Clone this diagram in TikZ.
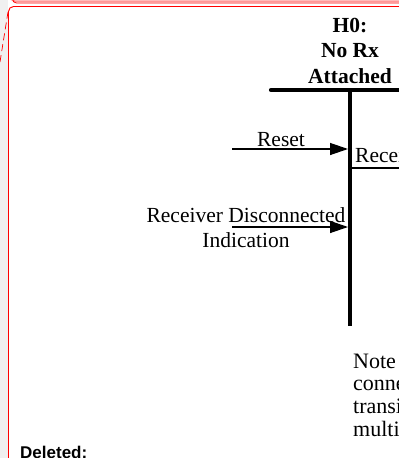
\documentclass[tikz,border=0pt]{standalone}
\usepackage{fontspec}
\setmainfont{Liberation Serif}
\newfontfamily\balloonfont{Liberation Sans}
\usetikzlibrary{arrows.meta}
\definecolor{margingray}{RGB}{240,240,240}
\definecolor{markred}{RGB}{255,0,0}
\definecolor{markpink}{RGB}{255,150,150}
\tikzset{
  lbl/.style={font=\fontsize{21.5}{26}\selectfont, inner sep=0pt, anchor=base},
  ttl/.style={font=\fontsize{21.5}{26}\selectfont\bfseries, inner sep=0pt, anchor=base},
  notetxt/.style={font=\fontsize{22}{24}\selectfont, inner sep=0pt, anchor=base west},
  balloontxt/.style={font=\balloonfont\fontsize{17}{20}\selectfont\bfseries, inner sep=0pt, anchor=base west},
  bar/.style={line width=4.2pt, line cap=round},
  sig/.style={line width=1.3pt, -{Triangle[length=18pt,width=12pt]}},
}
\begin{document}
\begin{tikzpicture}[x=1pt,y=-1pt]
\useasboundingbox (0,0) rectangle (399,458);
% page and margin
\fill[margingray] (0,0) rectangle (399,458);
\fill[white] (8,0) rectangle (399,458);
% tracked-change balloons
\draw[markpink, line width=1.6pt, rounded corners=4pt] (11,-20) -- (11,1.2) -- (420,1.2);
\draw[markred, line width=0.8pt, rounded corners=4pt] (12.5,-20) -- (12.5,3) -- (420,3);
\draw[markred, line width=0.9pt, rounded corners=5pt] (8.5,480) -- (8.5,6.5) -- (430,6.5);
\coordinate (lk1) at (0,62);
\coordinate (lk2) at (8,12);
\draw[markred, line width=0.7pt, dash pattern=on 7pt off 4pt] (lk1) -- (lk2);
\node[balloontxt] (del) at (20,458) {Deleted:};

% state H0
\node[ttl] (t1) at (350,32) {H0:};
\node[ttl] (t2) at (350,57.5) {No Rx};
\node[ttl] (t3) at (350,83) {Attached};
\coordinate (hl) at (271,90);
\coordinate (hr) at (410,90);
\coordinate (vt) at (350,90);
\coordinate (vb) at (350,326);
\draw[bar] (hl) -- (hr);
\draw[line width=4.4pt] (vt) -- (vb);

% incoming transitions
\coordinate (r0) at (232,149);
\coordinate (r1) at (348,149);
\draw[sig] (r0) -- (r1);
\node[lbl] (reset) at (281,146) {Reset};
\coordinate (d0) at (232,227);
\coordinate (d1) at (348,227);
\node[lbl] (rd1) at (246,222) {Receiver Disconnected};
\node[lbl] (rd2) at (246,247) {Indication};
\draw[sig] (d0) -- (d1);

% outgoing transition
\node[lbl, anchor=base west] (rece) at (355,162) {Receiver Detected};
\coordinate (o0) at (352,168);
\coordinate (o1) at (410,168);
\draw[line width=1.1pt] (o0) -- (o1);

% note
\node[notetxt] (n1) at (353,368) {Note};
\node[notetxt] (n2) at (353,390) {connection};
\node[notetxt] (n3) at (353,413) {transition};
\node[notetxt] (n4) at (353,436) {multiple};
\end{tikzpicture}
\end{document}
